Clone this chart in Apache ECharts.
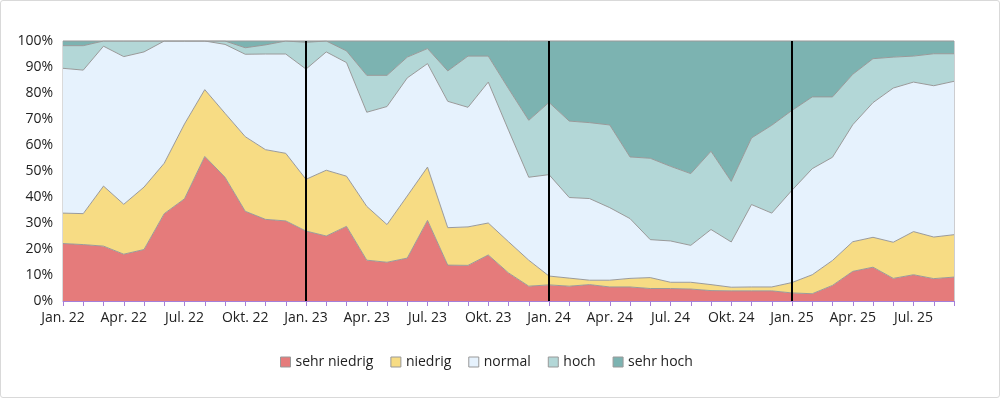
<!DOCTYPE html>
<html>
<head>
<meta charset="utf-8">
<script src="https://cdn.jsdelivr.net/npm/echarts@6/dist/echarts.min.js"></script>
<style>
  html, body { margin: 0; padding: 0; background: #fff; }
  #chart { width: 998px; height: 396px; border: 1px solid #d9d9d9; border-radius: 3px; }
</style>
</head>
<body>
<div id="chart"></div>
<script>
const months = ['Jan.', 'Feb.', 'Mär.', 'Apr.', 'Mai', 'Jun.', 'Jul.', 'Aug.', 'Sep.', 'Okt.', 'Nov.', 'Dez.'];
const categories = [];
for (let y = 22; y <= 25; y++) {
  for (let m = 0; m < 12; m++) {
    if (y === 25 && m > 8) break;
    categories.push(months[m] + ' ' + y);
  }
}

const sehrNiedrig = [22.1, 21.7, 21.1, 18.0, 19.8, 33.6, 39.3, 55.6, 47.6, 34.5, 31.4, 30.8,
  26.9, 25.0, 28.7, 15.7, 14.9, 16.5, 31.0, 13.8, 13.7, 17.7, 10.8, 5.7,
  6.2, 5.7, 6.3, 5.4, 5.4, 4.8, 4.8, 4.6, 4.0, 3.9, 3.9, 3.9,
  3.1, 2.8, 6.0, 11.4, 13.0, 8.7, 10.1, 8.6, 9.2];
const niedrig = [11.7, 11.9, 23.1, 19.2, 24.0, 19.4, 28.8, 25.7, 24.6, 28.7, 26.8, 26.0,
  19.9, 25.3, 19.3, 20.7, 14.5, 23.9, 20.5, 14.4, 14.8, 12.3, 12.0, 10.0,
  3.4, 3.1, 1.7, 2.6, 3.3, 4.2, 2.4, 2.6, 2.3, 1.4, 1.5, 1.5,
  4.0, 7.3, 9.6, 11.4, 11.5, 13.9, 16.6, 16.0, 16.3];
const normal = [55.7, 55.2, 53.8, 56.8, 52.0, 47.0, 31.9, 18.7, 26.5, 31.7, 36.8, 38.2,
  42.4, 45.5, 43.7, 36.2, 45.4, 45.4, 39.8, 48.6, 46.0, 54.2, 42.9, 31.9,
  39.0, 31.0, 31.4, 27.9, 23.0, 14.6, 15.9, 14.2, 21.2, 17.4, 31.7, 28.4,
  35.5, 40.8, 39.7, 45.0, 51.8, 59.3, 57.5, 58.2, 59.0];
const hoch = [8.7, 9.4, 2.0, 6.0, 4.2, 0, 0, 0, 1.3, 2.5, 3.5, 5.0,
  10.3, 4.2, 4.5, 14.2, 12.0, 8.0, 5.8, 11.7, 19.7, 10.0, 16.0, 21.9,
  27.8, 29.4, 29.2, 31.8, 23.7, 31.3, 28.7, 27.6, 30.1, 23.3, 25.6, 33.8,
  30.7, 27.6, 23.2, 19.4, 16.9, 11.9, 10.0, 12.3, 10.6];
const sehrHoch = [1.8, 1.8, 0, 0, 0, 0, 0, 0, 0, 2.6, 1.5, 0,
  0.5, 0, 3.8, 13.2, 13.2, 6.2, 2.9, 11.5, 5.8, 5.8, 18.3, 30.5,
  23.6, 30.8, 31.4, 32.3, 44.6, 45.1, 48.2, 51.0, 42.4, 54.0, 37.3, 32.4,
  26.7, 21.5, 21.5, 12.8, 6.8, 6.2, 5.8, 4.9, 4.9];
const yearStarts = ['Jan. 23', 'Jan. 24', 'Jan. 25'];

const names = ['sehr niedrig', 'niedrig', 'normal', 'hoch', 'sehr hoch'];
const colors = ['#E57B7B', '#F7DC84', '#E6F2FD', '#B3D7D7', '#7CB3B1'];
const seriesData = [sehrNiedrig, niedrig, normal, hoch, sehrHoch];

const myChart = echarts.init(document.getElementById('chart'));

const series = seriesData.map(function (d, i) {
  const s = {
    name: names[i],
    type: 'line',
    stack: 'total',
    data: d,
    symbol: 'none',
    lineStyle: { width: 1, color: '#9a9a9a' },
    areaStyle: { color: colors[i], opacity: 1 },
    itemStyle: { color: colors[i], borderColor: '#999' }
  };
  if (i === 4) {
    // black separators at the start of each year
    s.markLine = {
      silent: true,
      symbol: 'none',
      label: { show: false },
      lineStyle: { color: '#000', width: 2, type: 'solid' },
      data: yearStarts.map(function (c) { return { xAxis: c }; })
    };
  }
  return s;
});

const option = {
  animation: false,
  textStyle: { fontFamily: 'Open Sans, Noto Sans, sans-serif' },
  grid: {
    left: 62, right: 45, top: 40, bottom: 96,
    show: true, borderColor: '#b4b4b4', borderWidth: 1, backgroundColor: 'transparent'
  },
  legend: {
    bottom: 23,
    left: 274,
    icon: 'rect',
    itemWidth: 10,
    itemHeight: 10,
    itemGap: 17,
    textStyle: { fontSize: 14, color: '#222' },
    data: names.map(function (n, i) {
      return { name: n, itemStyle: { color: colors[i], borderColor: '#999', borderWidth: 1 } };
    })
  },
  xAxis: {
    type: 'category',
    data: categories,
    boundaryGap: false,
    z: 3,
    axisLine: { lineStyle: { color: '#A57FD9', width: 1 } },
    axisTick: { show: true, interval: 0, length: 5, lineStyle: { color: '#A57FD9', width: 1 } },
    axisLabel: { interval: 2, color: '#222', fontSize: 14, margin: 10 },
    splitLine: { show: true, interval: 0, lineStyle: { color: 'rgba(140,140,160,0.15)' } }
  },
  yAxis: {
    type: 'value',
    min: 0,
    max: 100,
    interval: 10,
    z: 3,
    axisLine: { show: false },
    axisTick: { show: false },
    axisLabel: { formatter: '{value}%', color: '#222', fontSize: 14, margin: 10 },
    splitLine: { show: true, lineStyle: { color: 'rgba(140,140,160,0.15)' } }
  },
  series: series
};

myChart.setOption(option);
</script>
</body>
</html>
